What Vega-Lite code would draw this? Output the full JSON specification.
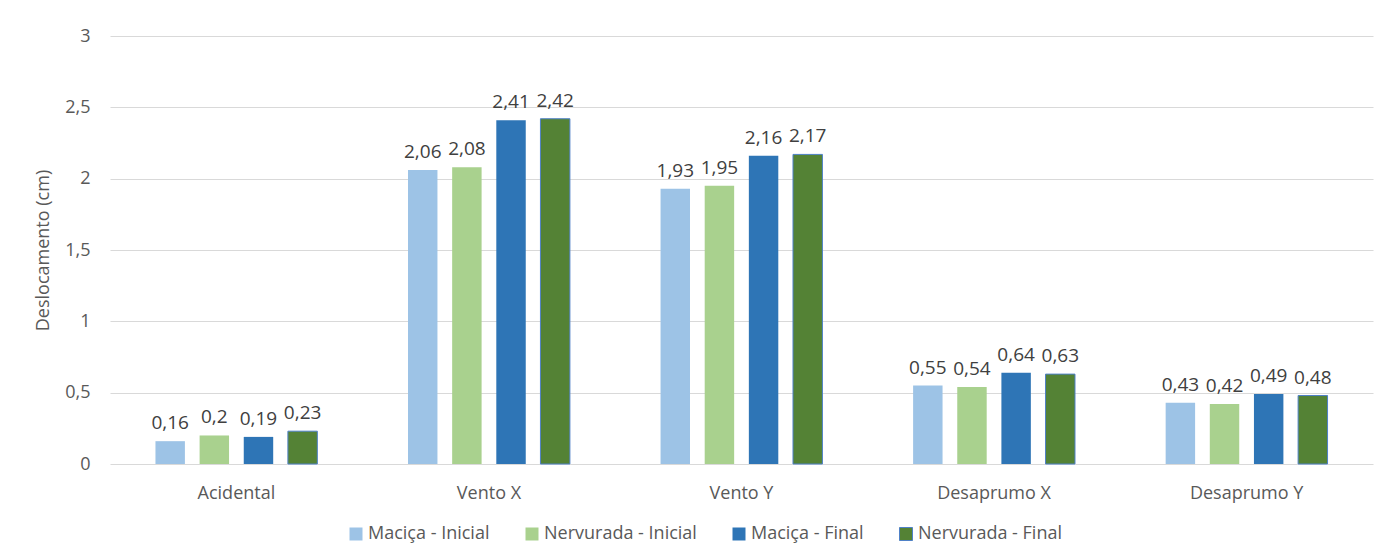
{
  "$schema": "https://vega.github.io/schema/vega-lite/v6.json",
  "width": 1263,
  "height": 428,
  "autosize": {"type": "none"},
  "padding": {"left": 110, "top": 36, "right": 11, "bottom": 94},
  "background": "white",
  "config": {
    "locale": {"number": {"decimal": ",", "thousands": ".", "grouping": [3], "currency": ["R$", ""]}},
    "font": "Open Sans",
    "view": {"stroke": null},
    "axis": {
      "labelFont": "Open Sans",
      "labelFontSize": 18,
      "labelColor": "#595959",
      "titleFont": "Open Sans",
      "titleFontSize": 18,
      "titleFontWeight": "normal",
      "titleColor": "#595959",
      "domain": false,
      "ticks": false
    },
    "legend": {
      "labelFont": "Open Sans",
      "labelFontSize": 18,
      "labelColor": "#595959"
    }
  },
  "data": {
    "values": [
      {"caso": "Acidental", "serie": "Maciça - Inicial", "desloc": 0.16},
      {"caso": "Acidental", "serie": "Nervurada - Inicial", "desloc": 0.2},
      {"caso": "Acidental", "serie": "Maciça - Final", "desloc": 0.19},
      {"caso": "Acidental", "serie": "Nervurada - Final", "desloc": 0.23},
      {"caso": "Vento X", "serie": "Maciça - Inicial", "desloc": 2.06},
      {"caso": "Vento X", "serie": "Nervurada - Inicial", "desloc": 2.08},
      {"caso": "Vento X", "serie": "Maciça - Final", "desloc": 2.41},
      {"caso": "Vento X", "serie": "Nervurada - Final", "desloc": 2.42},
      {"caso": "Vento Y", "serie": "Maciça - Inicial", "desloc": 1.93},
      {"caso": "Vento Y", "serie": "Nervurada - Inicial", "desloc": 1.95},
      {"caso": "Vento Y", "serie": "Maciça - Final", "desloc": 2.16},
      {"caso": "Vento Y", "serie": "Nervurada - Final", "desloc": 2.17},
      {"caso": "Desaprumo X", "serie": "Maciça - Inicial", "desloc": 0.55},
      {"caso": "Desaprumo X", "serie": "Nervurada - Inicial", "desloc": 0.54},
      {"caso": "Desaprumo X", "serie": "Maciça - Final", "desloc": 0.64},
      {"caso": "Desaprumo X", "serie": "Nervurada - Final", "desloc": 0.63},
      {"caso": "Desaprumo Y", "serie": "Maciça - Inicial", "desloc": 0.43},
      {"caso": "Desaprumo Y", "serie": "Nervurada - Inicial", "desloc": 0.42},
      {"caso": "Desaprumo Y", "serie": "Maciça - Final", "desloc": 0.49},
      {"caso": "Desaprumo Y", "serie": "Nervurada - Final", "desloc": 0.48}
    ]
  },
  "encoding": {
    "x": {
      "field": "caso",
      "type": "nominal",
      "sort": null,
      "title": null,
      "scale": {"paddingInner": 0.359, "paddingOuter": 0.18},
      "axis": {"labelAngle": 0, "labelPadding": 20, "grid": false}
    },
    "xOffset": {
      "field": "serie",
      "type": "nominal",
      "sort": ["Maciça - Inicial", "Nervurada - Inicial", "Maciça - Final", "Nervurada - Final"],
      "scale": {"paddingInner": 0.333, "paddingOuter": 0}
    },
    "y": {
      "field": "desloc",
      "type": "quantitative",
      "title": "Deslocamento (cm)",
      "scale": {"domain": [0, 3], "nice": false},
      "axis": {
        "values": [0, 0.5, 1, 1.5, 2, 2.5, 3],
        "format": "~g",
        "grid": true,
        "gridColor": "#d9d9d9",
        "gridWidth": 1,
        "labelPadding": 20,
        "titlePadding": 12
      }
    }
  },
  "layer": [
    {
      "mark": {"type": "bar", "strokeWidth": 1},
      "encoding": {
        "fill": {
          "field": "serie",
          "type": "nominal",
          "sort": ["Maciça - Inicial", "Nervurada - Inicial", "Maciça - Final", "Nervurada - Final"],
          "title": null,
          "scale": {
            "domain": ["Maciça - Inicial", "Nervurada - Inicial", "Maciça - Final", "Nervurada - Final"],
            "range": ["#9dc3e6", "#a9d18e", "#2e75b6", "#548235"]
          },
          "legend": {
            "orient": "none",
            "direction": "horizontal",
            "legendX": 237,
            "legendY": 489,
            "padding": 0,
            "symbolType": "square",
            "symbolSize": 169,
            "symbolStrokeWidth": 1,
            "labelOffset": 3,
            "columnPadding": 33
          }
        },
        "stroke": {
          "field": "serie",
          "type": "nominal",
          "sort": ["Maciça - Inicial", "Nervurada - Inicial", "Maciça - Final", "Nervurada - Final"],
          "title": null,
          "scale": {
            "domain": ["Maciça - Inicial", "Nervurada - Inicial", "Maciça - Final", "Nervurada - Final"],
            "range": ["transparent", "transparent", "transparent", "#4f81c7"]
          }
        }
      }
    },
    {
      "mark": {
        "type": "text",
        "baseline": "bottom",
        "dy": -8,
        "font": "Open Sans",
        "fontSize": 19,
        "color": "#404040"
      },
      "encoding": {
        "text": {"field": "desloc", "type": "quantitative", "format": "~g"}
      }
    }
  ]
}
